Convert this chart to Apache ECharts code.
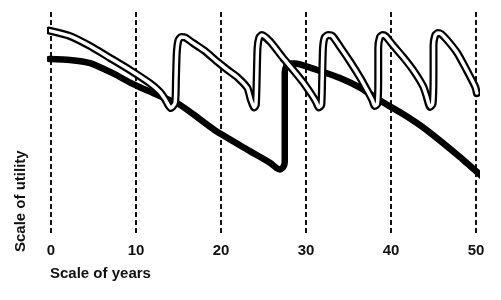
<!DOCTYPE html>
<html>
<head>
<meta charset="utf-8">
<script src="https://cdn.jsdelivr.net/npm/echarts@6/dist/echarts.min.js"></script>
<style>
  html, body { margin: 0; padding: 0; background: #fff; }
  #chart { width: 501px; height: 300px; }
</style>
</head>
<body>
<div id="chart"></div>
<script>
// year ticks
const yearTicks = [0, 10, 20, 30, 40, 50]

// double (hollow) line: [year, utility]
const hollowLine = [
  [-0.2, 91.7], [2.2, 89.3], [4.6, 84.8], [6.9, 79.6], [9.3, 74.1], [11.6, 68.3], [12.8, 64.4], [13.4, 61.2], [13.8, 58.5],
  [14.1, 57.1], [14.6, 59.5], [14.7, 70], [14.8, 82], [15.0, 87.5], [15.3, 88.8], [15.8, 88.6],
  [16.7, 86.2], [18.1, 82.6], [19.6, 77.7], [20.8, 74.1], [21.9, 71], [23.1, 66.1], [23.5, 61], [23.9, 57.4],
  [24.1, 58.5], [24.2, 70], [24.3, 84], [24.5, 88.6], [24.8, 89.7],
  [25.8, 86.7], [27.3, 79.5], [28.5, 74.1], [29.6, 68.9], [30.7, 62.9], [31.2, 59.8], [31.5, 57.4],
  [31.8, 58.5], [31.9, 70], [32.0, 84], [32.2, 88.6], [32.6, 89.7],
  [33.1, 89.3], [34, 84.5], [35.2, 77.8], [36.4, 70.5], [37.3, 64.3], [37.8, 60.7], [38.1, 58],
  [38.4, 59], [38.5, 70], [38.5, 84], [38.7, 88.8], [39.0, 89.7],
  [39.4, 89.1], [40.2, 85.3], [41.4, 80], [42.6, 74.1], [43.8, 66.7], [44.2, 62.2], [44.6, 57.6],
  [44.9, 59], [45.0, 72], [45.0, 85], [45.2, 89.6], [45.5, 90.6],
  [45.9, 90.2], [46.6, 87.5], [47.8, 81.7], [48.9, 74.1], [49.9, 66.7], [50.1, 63.8]
]

// solid black line: [year, utility]
const solidLine = [
  [-0.2, 79], [2.2, 78.6], [4.6, 77.2], [7.2, 72.8], [9.6, 67.9], [12.8, 62.5], [15.2, 58.5], [17.5, 52.2],
  [19.6, 46.4], [23.4, 37.9], [25.8, 32.6], [26.5, 30.4], [26.9, 29.7], [27.3, 30.6], [27.5, 33],
  [27.5, 55], [27.5, 73], [27.7, 76], [28.1, 77], [28.7, 77],
  [31.3, 74.1], [34, 70.5], [36.4, 66.1], [39, 59.8], [41.6, 54], [44.2, 47.3], [48.1, 35.3], [50.8, 26.3]
]

const chart = echarts.init(document.getElementById('chart'))
const option = {
  backgroundColor: '#fff',
  animation: false,
  grid: { left: 51, right: 25, top: 12, bottom: 64 },
  xAxis: {
    type: 'value',
    min: 0,
    max: 50,
    interval: 10,
    axisLine: { show: false },
    axisTick: { show: false },
    axisLabel: {
      color: '#111',
      fontFamily: 'Liberation Sans',
      fontWeight: 'bold',
      fontSize: 15,
      margin: 7,
      customValues: yearTicks
    },
    splitLine: {
      show: true,
      lineStyle: { color: '#111', width: 2, type: [5, 3] }
    }
  },
  yAxis: {
    type: 'value',
    min: 0,
    max: 100,
    show: false
  },
  series: [
    {
      type: 'line',
      data: solidLine,
      smooth: 0.2,
      symbol: 'none',
      clip: false,
      lineStyle: { color: '#000', width: 6.5, cap: 'round', join: 'round' },
      z: 2
    },
    {
      type: 'line',
      data: hollowLine,
      smooth: 0.2,
      symbol: 'none',
      clip: false,
      lineStyle: { color: '#000', width: 8, cap: 'round', join: 'round' },
      z: 3
    },
    {
      type: 'line',
      data: hollowLine,
      smooth: 0.2,
      symbol: 'none',
      clip: false,
      lineStyle: { color: '#fff', width: 3.5, cap: 'round', join: 'round' },
      z: 4
    }
  ],
  graphic: [
    {
      type: 'text',
      left: 50,
      top: 266,
      style: {
        text: 'Scale of years',
        fill: '#111',
        font: 'bold 15px "Liberation Sans"'
      }
    },
    {
      type: 'text',
      x: 13,
      y: 252,
      rotation: Math.PI / 2,
      style: {
        text: 'Scale of utility',
        fill: '#111',
        font: 'bold 15px "Liberation Sans"'
      }
    }
  ]
}
chart.setOption(option)
</script>
</body>
</html>
